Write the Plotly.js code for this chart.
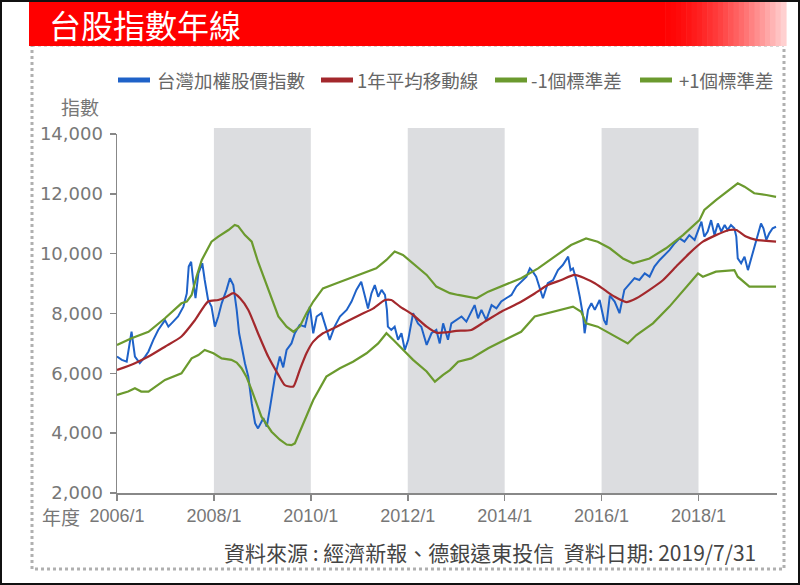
<!DOCTYPE html>
<html><head><meta charset="utf-8">
<script src="https://cdn.plot.ly/plotly-3.0.1.min.js"></script>
<style>html,body{margin:0;padding:0;background:#fff;} #chart{width:800px;height:585px;}</style>
</head><body><div id="chart"></div>
<script>
// ---- data ----
const idxYear = [2006.00,2006.10,2006.20,2006.30,2006.37,2006.47,2006.58,2006.65,2006.75,2006.85,2006.99,2007.06,2007.16,2007.26,2007.37,2007.44,2007.48,2007.53,2007.57,2007.62,2007.68,2007.76,2007.81,2007.88,2007.95,2008.02,2008.09,2008.16,2008.26,2008.33,2008.40,2008.47,2008.52,2008.57,2008.64,2008.71,2008.78,2008.85,2008.91,2009.02,2009.09,2009.15,2009.26,2009.36,2009.43,2009.50,2009.60,2009.67,2009.77,2009.88,2009.98,2010.05,2010.12,2010.22,2010.32,2010.39,2010.49,2010.60,2010.74,2010.84,2010.94,2011.04,2011.11,2011.18,2011.25,2011.32,2011.39,2011.46,2011.53,2011.57,2011.59,2011.66,2011.73,2011.80,2011.87,2011.94,2012.01,2012.11,2012.21,2012.28,2012.39,2012.49,2012.59,2012.66,2012.73,2012.83,2012.90,2013.00,2013.11,2013.21,2013.31,2013.38,2013.45,2013.52,2013.62,2013.73,2013.83,2013.93,2014.03,2014.14,2014.24,2014.34,2014.45,2014.52,2014.58,2014.65,2014.72,2014.79,2014.89,2015.00,2015.10,2015.20,2015.31,2015.36,2015.41,2015.48,2015.55,2015.62,2015.65,2015.72,2015.79,2015.86,2015.96,2016.05,2016.10,2016.17,2016.27,2016.34,2016.37,2016.47,2016.58,2016.68,2016.78,2016.89,2016.99,2017.09,2017.20,2017.30,2017.40,2017.51,2017.61,2017.71,2017.81,2017.92,2017.99,2018.06,2018.12,2018.19,2018.26,2018.33,2018.40,2018.47,2018.54,2018.60,2018.67,2018.74,2018.78,2018.81,2018.88,2018.95,2019.02,2019.09,2019.15,2019.22,2019.29,2019.34,2019.40,2019.46,2019.53,2019.60];
const idxValue = [6560,6450,6390,7390,6560,6340,6560,6730,7120,7450,7780,7560,7730,7900,8230,8670,9570,9730,9120,8510,9340,9680,9120,8450,8230,7560,7900,8340,8790,9180,8950,8120,7340,6890,6340,5890,5000,4330,4160,4500,4220,4780,5890,6560,6200,6780,7000,7340,7620,7560,8230,7340,7900,8010,7450,7120,7560,7900,8120,8400,8790,9060,8620,8170,8670,8950,8560,8790,8620,8120,7560,7450,7560,7120,7340,6780,7120,8010,7670,7560,6950,7340,7450,7000,7670,7120,7670,7780,7900,7730,8060,8280,7840,8120,7780,8280,8170,8400,8510,8620,8900,9060,9230,9510,9400,9230,8900,8510,9010,9120,9450,9620,9900,9450,9510,9120,8560,7900,7340,8120,8340,8120,8450,7780,7620,8600,8400,8120,8010,8790,9010,9180,9120,9340,9230,9570,9790,9960,10120,10350,10510,10400,10620,10460,10790,11070,10570,10740,11120,10620,11010,10740,10960,10790,10960,10850,10570,9840,9680,9900,9450,9840,10230,10620,11010,10850,10460,10680,10850,10900];

const maYear = [2006.00,2006.37,2006.65,2006.99,2007.33,2007.61,2007.88,2008.09,2008.26,2008.40,2008.54,2008.71,2008.91,2009.12,2009.33,2009.46,2009.55,2009.64,2009.77,2009.91,2010.05,2010.25,2010.46,2010.74,2011.01,2011.29,2011.53,2011.66,2011.84,2012.11,2012.39,2012.59,2012.80,2013.00,2013.31,2013.59,2013.93,2014.28,2014.62,2014.89,2015.17,2015.44,2015.65,2015.86,2016.06,2016.27,2016.51,2016.72,2016.99,2017.27,2017.54,2017.81,2018.09,2018.36,2018.64,2018.78,2018.98,2019.19,2019.40,2019.60];
const maValue = [6110,6340,6560,6890,7230,7780,8400,8450,8560,8680,8510,8120,7340,6560,5950,5610,5560,5560,6110,6670,7060,7340,7500,7730,7950,8170,8450,8450,8230,7950,7560,7360,7370,7420,7450,7730,8060,8340,8670,8950,9120,9290,9180,9010,8790,8560,8380,8510,8790,9120,9570,10010,10400,10620,10790,10790,10570,10460,10430,10400];

const loYear = [2006.00,2006.23,2006.37,2006.50,2006.65,2006.99,2007.33,2007.54,2007.68,2007.81,2007.99,2008.16,2008.36,2008.47,2008.57,2008.67,2008.78,2008.98,2009.19,2009.36,2009.50,2009.60,2009.67,2009.84,2010.05,2010.32,2010.60,2010.87,2011.15,2011.39,2011.56,2011.70,2011.90,2012.11,2012.39,2012.56,2012.73,2012.87,2013.04,2013.31,2013.66,2014.00,2014.34,2014.62,2014.89,2015.17,2015.41,2015.58,2015.68,2015.92,2016.17,2016.37,2016.54,2016.72,2017.06,2017.40,2017.75,2017.99,2018.09,2018.36,2018.74,2018.81,2019.05,2019.19,2019.40,2019.60];
const loValue = [5280,5390,5500,5390,5390,5780,6000,6500,6610,6780,6670,6500,6450,6360,6170,5890,5440,4550,4050,3780,3620,3600,3660,4330,5110,5890,6170,6390,6670,7000,7340,7120,6780,6450,6060,5720,5950,6110,6390,6500,6840,7120,7390,7900,8010,8120,8230,8060,7670,7560,7340,7170,7000,7280,7670,8230,8900,9340,9230,9400,9450,9230,8900,8900,8900,8900];

const hiYear = [2006.00,2006.30,2006.65,2006.99,2007.33,2007.44,2007.54,2007.64,2007.75,2007.85,2007.95,2008.09,2008.30,2008.43,2008.50,2008.64,2008.78,2008.91,2009.05,2009.19,2009.33,2009.50,2009.64,2009.77,2009.91,2010.05,2010.25,2010.53,2010.80,2011.08,2011.35,2011.56,2011.73,2011.90,2012.11,2012.39,2012.59,2012.87,2013.04,2013.42,2013.66,2014.00,2014.34,2014.69,2015.03,2015.37,2015.68,2015.92,2016.17,2016.44,2016.65,2016.99,2017.33,2017.68,2018.02,2018.12,2018.36,2018.64,2018.81,2018.95,2019.15,2019.40,2019.60];
const hiValue = [6950,7170,7390,7840,8340,8400,8620,9230,9790,10120,10400,10570,10790,10960,10920,10620,10400,9730,9120,8450,7900,7560,7390,7560,8010,8400,8840,9010,9180,9340,9510,9790,10070,9960,9680,9290,8900,8680,8620,8510,8730,8950,9180,9510,9900,10290,10510,10400,10180,9840,9680,9840,10180,10620,11120,11460,11790,12130,12350,12240,12020,11960,11900];

const seriesNames = ['台灣加權股價指數', '1年平均移動線', '-1個標準差', '+1個標準差'];
const bandStart = [2008, 2012, 2016];
const bandEnd = [2010, 2014, 2018];
const tickYears = [2006, 2008, 2010, 2012, 2014, 2016, 2018];
const tickLabels = ['2006/1', '2008/1', '2010/1', '2012/1', '2014/1', '2016/1', '2018/1'];
const yTicks = [2000, 4000, 6000, 8000, 10000, 12000, 14000];
const chartTitle = '台股指數年線';
const yLabel = '指數';
const xLabel = '年度';
const sourceText = '資料來源 : 經濟新報、德銀遠東投信  資料日期: 2019/7/31';

// ---- styling ----
const W = 800, H = 585, L = 117, R = 23, T = 134, B = 92;
const PW = W - L - R, PH = H - T - B;
const px = x => (x - L) / PW;
const py = y => 1 - (y - T) / PH;
const BLUE = '#1f62c8', RED = '#a3282c', GREEN = '#6b9a2e', GRAY = '#777777';
const CJK = '"Noto Sans CJK TC", "Noto Sans CJK SC", sans-serif';
const seriesColors = [BLUE, RED, GREEN, GREEN];

const traces = [
  {x: idxYear, y: idxValue, type: 'scatter', mode: 'lines', name: seriesNames[0], line: {color: seriesColors[0], width: 2}},
  {x: maYear, y: maValue, type: 'scatter', mode: 'lines', name: seriesNames[1], line: {color: seriesColors[1], width: 2.2, shape: 'spline', smoothing: 0.6}},
  {x: loYear, y: loValue, type: 'scatter', mode: 'lines', name: seriesNames[2], line: {color: seriesColors[2], width: 2.2}},
  {x: hiYear, y: hiValue, type: 'scatter', mode: 'lines', name: seriesNames[3], line: {color: seriesColors[3], width: 2.2}}
];

const shapes = [];
// inner dotted frame
shapes.push({type: 'rect', xref: 'paper', yref: 'paper', x0: px(32), x1: px(784), y0: py(45), y1: py(569), line: {color: '#b0b0b0', width: 3, dash: 'dot'}, fillcolor: 'rgba(0,0,0,0)'});
// red title bar with fading right end
shapes.push({type: 'rect', xref: 'paper', yref: 'paper', x0: px(29), x1: px(661), y0: py(2), y1: py(46), line: {width: 0}, fillcolor: '#ff0000'});
const steps = 24;
for (let s = 0; s < steps; s++) {
  const a = 660 + s * (786 - 660) / steps, b = 660 + (s + 1) * (786 - 660) / steps + 0.6;
  const f = (s + 0.5) / steps;
  const g = Math.round(215 * Math.pow(f, 1.6));
  shapes.push({type: 'rect', xref: 'paper', yref: 'paper', x0: px(a), x1: px(b), y0: py(2), y1: py(46), line: {width: 0}, fillcolor: `rgb(255,${g},${g})`});
}
// outer black frame
shapes.push({type: 'rect', xref: 'paper', yref: 'paper', x0: px(1), x1: px(799), y0: py(1), y1: py(584), line: {color: '#111', width: 2}, fillcolor: 'rgba(0,0,0,0)'});
// grey period bands
bandStart.forEach((s, i) => shapes.push({type: 'rect', xref: 'x', yref: 'paper', x0: s, x1: bandEnd[i], y0: 0, y1: py(128), fillcolor: '#dcdde0', line: {width: 0}, layer: 'below'}));

// legend (swatch + label per series)
const legSwatchX = [118, 321, 495, 640];
const legTextX = [155, 355, 529, 677];
seriesNames.forEach((n, i) => shapes.push({type: 'line', xref: 'paper', yref: 'paper', x0: px(legSwatchX[i]), x1: px(legSwatchX[i] + 32), y0: py(80), y1: py(80), line: {color: seriesColors[i], width: 5}}));

const annotations = [
  {text: chartTitle, xref: 'paper', yref: 'paper', x: px(47), y: py(24), xanchor: 'left', yanchor: 'middle', showarrow: false, font: {family: CJK, size: 32, color: '#ffffff'}},
  {text: yLabel, xref: 'paper', yref: 'paper', x: px(80), y: py(106), xanchor: 'center', yanchor: 'middle', showarrow: false, font: {family: CJK, size: 19, color: GRAY}},
  {text: xLabel, xref: 'paper', yref: 'paper', x: px(61), y: py(516), xanchor: 'center', yanchor: 'middle', showarrow: false, font: {family: CJK, size: 19, color: GRAY}},
  {text: sourceText, xref: 'paper', yref: 'paper', x: px(758), y: py(552), xanchor: 'right', yanchor: 'middle', showarrow: false, font: {family: CJK, size: 21, color: '#444444'}}
];
seriesNames.forEach((n, i) => annotations.push({text: n, xref: 'paper', yref: 'paper', x: px(legTextX[i]), y: py(80), xanchor: 'left', yanchor: 'middle', showarrow: false, font: {family: CJK, size: 18.5, color: '#666666'}}));

const layout = {
  width: W, height: H,
  margin: {l: L, r: R, t: T, b: B, pad: 0},
  paper_bgcolor: '#ffffff', plot_bgcolor: '#ffffff',
  showlegend: false,
  xaxis: {range: [2006, 2019.62], tickvals: tickYears, ticktext: tickLabels, ticks: 'outside', ticklen: 6, tickwidth: 1.5, tickcolor: '#888',
          showline: true, linecolor: '#888', linewidth: 1.5, showgrid: false, zeroline: false,
          tickfont: {family: '"Liberation Sans", sans-serif', size: 18, color: GRAY}},
  yaxis: {range: [2000, 14000], tickvals: yTicks, tickformat: ',d', ticks: 'outside', ticklen: 6, tickwidth: 1.5, tickcolor: '#888',
          showline: true, linecolor: '#888', linewidth: 1.5, showgrid: false, zeroline: false, ticklabelstandoff: 3,
          tickfont: {family: '"DejaVu Sans", sans-serif', size: 18, color: GRAY}},
  shapes: shapes,
  annotations: annotations
};

Plotly.newPlot('chart', traces, layout, {displayModeBar: false, staticPlot: true});
</script>
</body></html>
